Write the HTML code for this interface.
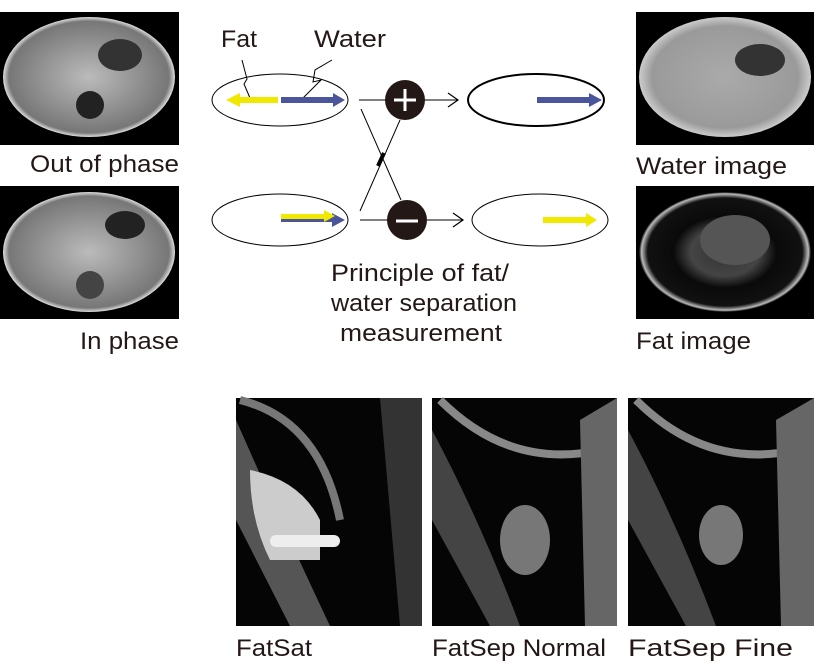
<!DOCTYPE html>
<html><head><meta charset="utf-8"><style>
body{margin:0;background:#fff;width:816px;height:667px;overflow:hidden;font-family:"Liberation Sans",sans-serif}
svg text{font-family:"Liberation Sans",sans-serif;fill:#231815}
</style></head><body>
<svg width="816" height="667" viewBox="0 0 816 667" xmlns="http://www.w3.org/2000/svg">
<defs>
<radialGradient id="abd" cx="50%" cy="50%" r="50%"><stop offset="0" stop-color="#bbb"/><stop offset="0.7" stop-color="#888"/><stop offset="0.93" stop-color="#777"/><stop offset="1" stop-color="#ddd"/></radialGradient>
<radialGradient id="abdw" cx="50%" cy="50%" r="50%"><stop offset="0" stop-color="#aaa"/><stop offset="0.85" stop-color="#9a9a9a"/><stop offset="1" stop-color="#ccc"/></radialGradient>
<radialGradient id="abdf" cx="50%" cy="50%" r="50%"><stop offset="0" stop-color="#333"/><stop offset="0.4" stop-color="#444"/><stop offset="0.6" stop-color="#0a0a0a"/><stop offset="0.9" stop-color="#111"/><stop offset="0.97" stop-color="#bbb"/><stop offset="1" stop-color="#000"/></radialGradient>
</defs>
<rect x="0" y="12" width="179" height="133" fill="#000"/>
<ellipse cx="89" cy="77" rx="86" ry="60" fill="url(#abd)"/>
<ellipse cx="120" cy="55" rx="22" ry="16" fill="#333"/>
<ellipse cx="90" cy="105" rx="14" ry="14" fill="#222"/>
<rect x="0" y="186" width="179" height="133" fill="#000"/>
<ellipse cx="89" cy="252" rx="86" ry="60" fill="url(#abd)"/>
<ellipse cx="125" cy="225" rx="20" ry="14" fill="#222"/>
<ellipse cx="90" cy="285" rx="14" ry="14" fill="#444"/>
<text x="30" y="172" font-size="24" textLength="149" lengthAdjust="spacingAndGlyphs">Out of phase</text>
<text x="80" y="349" font-size="24" textLength="99" lengthAdjust="spacingAndGlyphs">In phase</text>
<rect x="636" y="12" width="178" height="133" fill="#000"/>
<ellipse cx="725" cy="77" rx="86" ry="60" fill="url(#abdw)"/>
<ellipse cx="760" cy="60" rx="25" ry="16" fill="#333"/>
<rect x="636" y="186" width="178" height="133" fill="#000"/>
<ellipse cx="725" cy="252" rx="86" ry="60" fill="url(#abdf)"/>
<ellipse cx="735" cy="240" rx="35" ry="25" fill="#555"/>
<text x="636" y="174" font-size="24" textLength="151" lengthAdjust="spacingAndGlyphs">Water image</text>
<text x="636" y="349" font-size="24" textLength="115" lengthAdjust="spacingAndGlyphs">Fat image</text>
<text x="221" y="47" font-size="24" textLength="36" lengthAdjust="spacingAndGlyphs">Fat</text>
<text x="314" y="47" font-size="24" textLength="72" lengthAdjust="spacingAndGlyphs">Water</text>
<path d="M242 60 L247 79 L244 84 L250 98" stroke="#000" fill="none" stroke-width="1"/>
<path d="M332 60 L315 70 L313 82 L321 80 L303 98" stroke="#000" fill="none" stroke-width="1"/>
<ellipse cx="280" cy="100" rx="68" ry="26" fill="none" stroke="#000" stroke-width="1"/>
<ellipse cx="536" cy="100" rx="68" ry="26" fill="none" stroke="#000" stroke-width="2"/>
<ellipse cx="280" cy="220" rx="68" ry="26" fill="none" stroke="#000" stroke-width="1"/>
<ellipse cx="540" cy="220" rx="68" ry="26" fill="none" stroke="#000" stroke-width="1"/>
<rect x="240" y="97" width="38" height="6" fill="#f0e800"/><polygon points="226,100 240,93 240,107" fill="#f0e800"/>
<rect x="281" y="97" width="53" height="6" fill="#4a5699"/><polygon points="345,100 333,93 333,107" fill="#4a5699"/>
<rect x="537" y="97" width="52" height="6" fill="#4a5699"/><polygon points="602,100 589,93 589,107" fill="#4a5699"/>
<rect x="281" y="217" width="52" height="5" fill="#4a5699"/><polygon points="345,220 332,213 332,227" fill="#4a5699"/>
<rect x="281" y="214" width="44" height="5" fill="#f0e800"/><polygon points="335,216 324,210 324,222" fill="#f0e800"/>
<rect x="543" y="217" width="44" height="6" fill="#f0e800"/><polygon points="597,220 586,213 586,227" fill="#f0e800"/>
<line x1="359" y1="100" x2="458" y2="100" stroke="#000" stroke-width="1"/>
<polyline points="448,93 458,100 448,107" fill="none" stroke="#000" stroke-width="1.2"/>
<line x1="360" y1="220" x2="463" y2="220" stroke="#000" stroke-width="1"/>
<polyline points="453,213 463,220 453,227" fill="none" stroke="#000" stroke-width="1.2"/>
<line x1="361" y1="109" x2="401" y2="200" stroke="#000" stroke-width="1"/>
<line x1="360" y1="211" x2="400" y2="120" stroke="#000" stroke-width="1"/>
<line x1="378" y1="166" x2="384" y2="153" stroke="#000" stroke-width="4"/>
<circle cx="405" cy="100" r="20" fill="#231815"/>
<path d="M394 100 H416 M405 89 V111" stroke="#fff" stroke-width="3"/>
<circle cx="407" cy="220" r="20" fill="#231815"/>
<path d="M396 221 H418" stroke="#fff" stroke-width="3"/>
<text x="331" y="281" font-size="24" textLength="178" lengthAdjust="spacingAndGlyphs">Principle of fat/</text>
<text x="331" y="311" font-size="24" textLength="186" lengthAdjust="spacingAndGlyphs">water separation</text>
<text x="340" y="341" font-size="24" textLength="162" lengthAdjust="spacingAndGlyphs">measurement</text>
<g>
<rect x="236" y="398" width="186" height="228" fill="#050505"/>
<path d="M236 420 Q280 520 330 626 L290 626 L236 520Z" fill="#555"/>
<path d="M250 470 Q300 480 320 520 L320 560 L270 560 Q250 520 250 470Z" fill="#ccc"/>
<rect x="270" y="535" width="70" height="12" rx="6" fill="#eee"/>
<path d="M240 400 Q320 420 340 520" stroke="#777" stroke-width="8" fill="none"/>
<path d="M380 398 L422 398 L422 626 L400 626 Z" fill="#333"/>
</g>
<g>
<rect x="432" y="398" width="185" height="228" fill="#050505"/>
<path d="M432 430 Q480 520 520 626 L490 626 L432 520Z" fill="#444"/>
<path d="M440 400 Q510 470 600 450" stroke="#888" stroke-width="8" fill="none"/>
<ellipse cx="525" cy="540" rx="25" ry="35" fill="#777"/>
<path d="M580 420 L617 398 L617 626 L585 626 Z" fill="#666"/>
</g>
<g>
<rect x="628" y="398" width="186" height="228" fill="#050505"/>
<path d="M628 430 Q676 520 716 626 L686 626 L628 520Z" fill="#444"/>
<path d="M636 400 Q706 470 796 450" stroke="#888" stroke-width="8" fill="none"/>
<ellipse cx="721" cy="535" rx="22" ry="30" fill="#777"/>
<path d="M776 420 L814 398 L814 626 L781 626 Z" fill="#666"/>
</g>
<text x="236" y="656" font-size="24" textLength="76" lengthAdjust="spacingAndGlyphs">FatSat</text>
<text x="432" y="656" font-size="24" textLength="174" lengthAdjust="spacingAndGlyphs">FatSep Normal</text>
<text x="628" y="656" font-size="24" textLength="165" lengthAdjust="spacingAndGlyphs">FatSep Fine</text>
</svg>
</body></html>
